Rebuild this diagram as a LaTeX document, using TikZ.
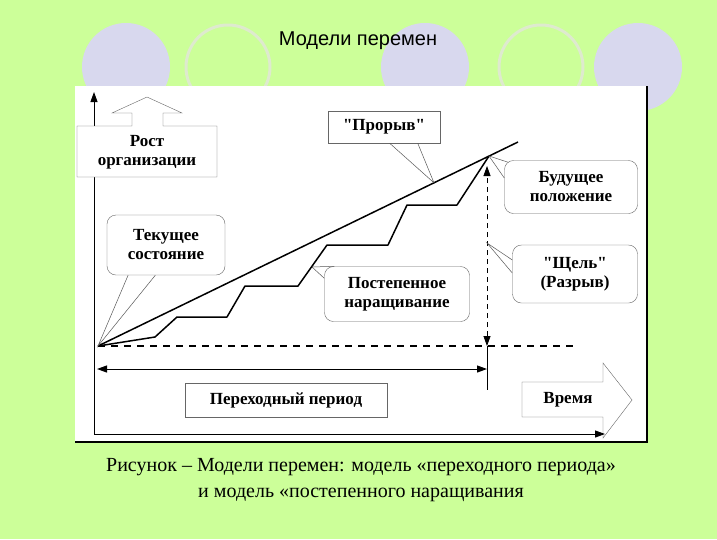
\documentclass[tikz,border=0pt]{standalone}
\usepackage{fontspec}
\setmainfont{Liberation Serif}
\newfontfamily\headfont{Liberation Sans}
\usetikzlibrary{arrows.meta,calc}
\definecolor{slidegreen}{RGB}{204,255,153}
\definecolor{dotfill}{RGB}{216,216,238}
\definecolor{dotring}{RGB}{222,234,206}

\begin{document}
\begin{tikzpicture}[x=1pt,y=-1pt,>={Triangle[length=10pt,width=7pt]},
  lbl/.style={font=\fontsize{17}{19}\selectfont\bfseries,align=center},
  callout/.style={lbl,draw=gray!80!black,fill=white,rounded corners=9pt,inner sep=0pt},
  plainbox/.style={lbl,draw=gray!80!black,fill=white,inner sep=0pt},
  ptr/.style={draw=gray!70!black,line width=0.5pt},
  curve/.style={line width=1.5pt,line join=round}]
\useasboundingbox[fill=slidegreen] (0,0) rectangle (717,539);
\foreach \cx in {126,425,638} \fill[dotfill] (\cx,67) circle (44pt);
\foreach \cx in {228,541} \draw[dotring,line width=3pt] (\cx,67) circle (42pt);
\node[font=\headfont\fontsize{20}{22}\selectfont] (title) at (358,41) {Модели перемен};
\fill[white] (75,86) rectangle (647,442);
\draw[line width=1.2pt] (75,442) -- (647,442) -- (647,86);

\coordinate (O) at (98,346);
\coordinate (ybot) at (94,434);
\coordinate (ytop) at (94,92);
\coordinate (xend) at (605,434);
\coordinate (peak) at (489,156);
\coordinate (leap) at (518,142);
\coordinate (dashend) at (578,346);
\coordinate (gaptop) at (487,166);
\coordinate (gapbot) at (487,346);
\coordinate (tick) at (487,390);
\coordinate (tl) at (97,369);
\coordinate (tr) at (487,369);
\path (O) -- (leap) coordinate[pos=0.8] (hit);

\draw[->,line width=1pt] (ybot) -- (ytop);
\draw[curve] (O) -- (leap);
\draw[curve] (O) -- (155,337) -- (177,317) -- (227,317) -- (245,286) -- (298,286)
  -- (327,245) -- (388,245) -- (407,205) -- (457,205) -- (peak);
\draw[line width=1.2pt,dash pattern=on 7pt off 6pt] (O) -- (dashend);
\draw[<->,line width=0.8pt,dash pattern=on 5pt off 4pt] (gapbot) -- (gaptop);
\draw[line width=0.6pt] (gapbot) -- (tick);
\draw[<->,line width=1pt] (tl) -- (tr);

\draw[gray!80!black,fill=white] (77,177) -- (77,126) -- (132,126) -- (132,113) -- (112,113)
  -- (147,97) -- (182,113) -- (163,113) -- (163,126) -- (217,126) -- (217,177) -- cycle;
\node[lbl] (growth) at (147,152) {Рост\\организации};
\draw[gray!80!black,fill=white] (522,382) -- (603,382) -- (603,363) -- (632,400) -- (603,438)
  -- (603,417) -- (522,417) -- cycle;
\node[lbl] (time) at (568,400) {Время};
\draw[->,line width=1pt] (ybot) -- (xend);

\node[plainbox,minimum width=202pt,minimum height=34pt] (period) at (286,400) {Переходный период};
\node[callout,minimum width=118pt,minimum height=60pt] (now) at (166,245) {Текущее\\состояние};
\node[plainbox,minimum width=112pt,minimum height=32pt] (leapbox) at (384,127) {\textquotedbl Прорыв\textquotedbl};
\node[callout,minimum width=133pt,minimum height=53pt] (future) at (571,187) {Будущее\\положение};
\node[callout,minimum width=125pt,minimum height=58pt] (gap) at (575,274) {\textquotedbl Щель\textquotedbl\\(Разрыв)};
\node[callout,minimum width=145pt,minimum height=55pt] (gradual) at (397,294) {Постепенное\\наращивание};

\draw[ptr] ($(now.south west)!0.18!(now.south east)$) -- (O) -- ($(now.south west)!0.41!(now.south east)$);
\draw[ptr] ($(leapbox.south west)!0.55!(leapbox.south east)$) -- (hit) -- ($(leapbox.south west)!0.8!(leapbox.south east)$);
\draw[ptr] ($(future.north west)+(4,2)$) -- (peak) -- ($(future.west)+(0,-9)$);
\draw[ptr] ($(gap.west)+(0,-14)$) -- (487,243) -- ($(gap.west)+(0,-1)$);
\draw[ptr] ($(gradual.north west)+(10,0)$) -- (312,267) -- ($(gradual.north west)+(0,12)$);

\node[font=\fontsize{20}{26}\selectfont,align=center] (caption) at (361,480)
  {Рисунок – Модели перемен: модель «переходного периода»\\и модель «постепенного наращивания};
\end{tikzpicture}
\end{document}
